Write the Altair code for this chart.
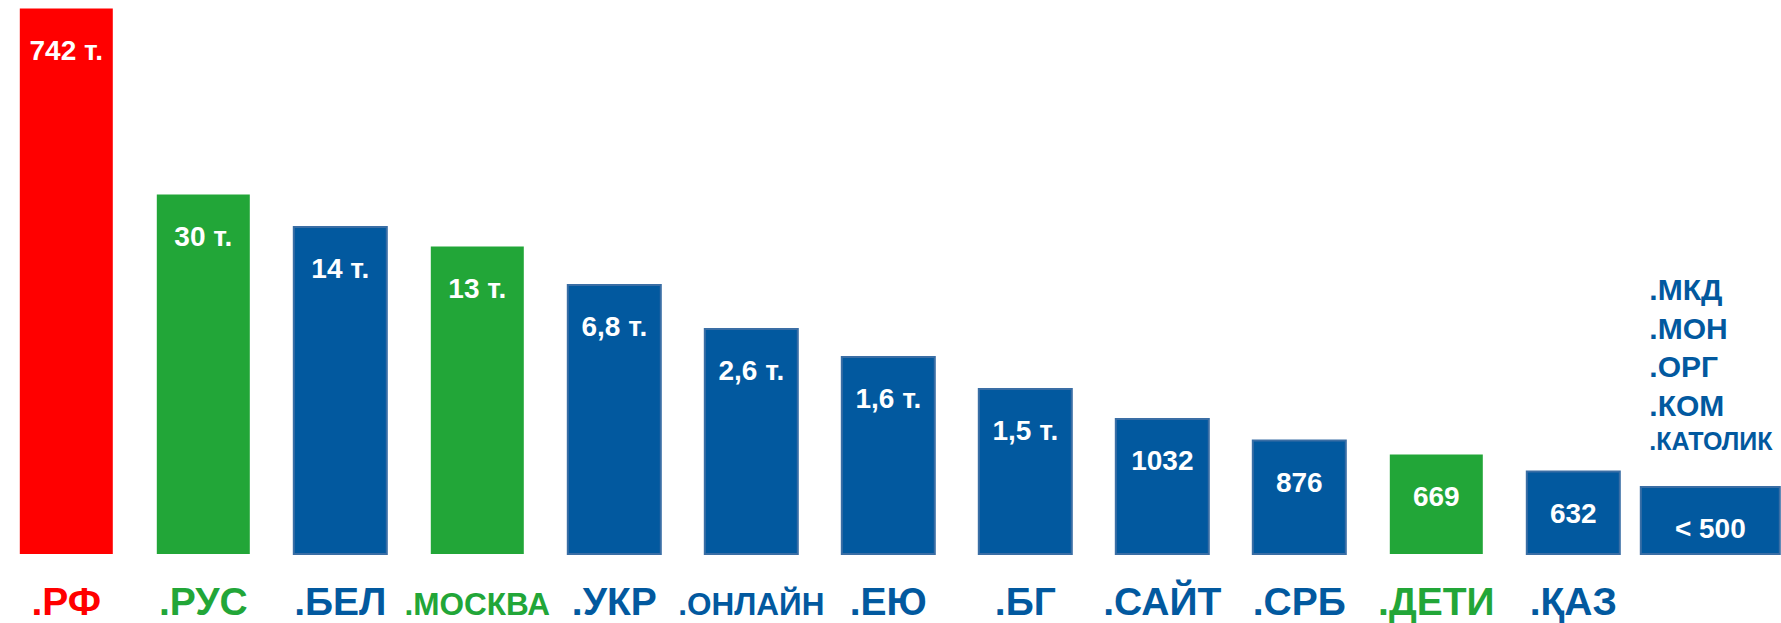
import altair as alt
import pandas as pd

# ---- data ----
categories = [".РФ", ".РУС", ".БЕЛ", ".МОСКВА", ".УКР", ".ОНЛАЙН", ".ЕЮ",
              ".БГ", ".САЙТ", ".СРБ", ".ДЕТИ", ".ҚАЗ", "< 500"]
tick_labels = [".РФ", ".РУС", ".БЕЛ", ".МОСКВА", ".УКР", ".ОНЛАЙН", ".ЕЮ",
               ".БГ", ".САЙТ", ".СРБ", ".ДЕТИ", ".ҚАЗ", ""]
value_labels = ["742 т.", "30 т.", "14 т.", "13 т.", "6,8 т.", "2,6 т.", "1,6 т.",
                "1,5 т.", "1032", "876", "669", "632", "< 500"]
# visual bar heights (the picture is not to scale)
bar_heights = [545.5, 359.5, 327, 307.5, 269, 225, 197, 165, 135, 113.5, 99.5, 82.5, 67]
groups = ["red", "green", "blue", "green", "blue", "blue", "blue",
          "blue", "blue", "blue", "green", "blue", "blue"]
small_tlds = [".МКД", ".МОН", ".ОРГ", ".КОМ"]
small_tld_last = ".КАТОЛИК"

df = pd.DataFrame({
    "cat": categories,
    "tick": tick_labels,
    "val": value_labels,
    "h": bar_heights,
    "grp": groups,
})

FONT = "Liberation Sans"
grp_domain = ["red", "green", "blue"]
fill_range = ["#FF0000", "#22A638", "#02599F"]

x_enc = alt.X("cat:N", sort=categories,
              scale=alt.Scale(domain=categories, paddingInner=0.3212,
                              paddingOuter=0.1606, align=0.45),
              axis=None)
y_scale = alt.Scale(domain=[0, 554])
y_enc = alt.Y("h:Q", scale=y_scale, axis=None)
fill_enc = alt.Color("grp:N", scale=alt.Scale(domain=grp_domain, range=fill_range), legend=None)
stroke_enc = alt.condition(alt.datum.grp == "blue", alt.value("#3A6EA5"), alt.value("transparent"))

base = alt.Chart(df)

bars = base.transform_filter(alt.datum.cat != "< 500").mark_bar(strokeWidth=2).encode(
    x=x_enc, y=y_enc, color=fill_enc, stroke=stroke_enc)

last_bar = base.transform_filter(alt.datum.cat == "< 500").mark_bar(width=139, strokeWidth=2).encode(
    x=x_enc, y=y_enc, color=fill_enc, stroke=stroke_enc)

values = base.mark_text(font=FONT, fontSize=28, fontWeight="bold", color="white",
                        baseline="alphabetic", dy=51).encode(
    x=x_enc, y=y_enc, text="val:N")

tick_color = alt.Color("grp:N", scale=alt.Scale(domain=grp_domain, range=fill_range), legend=None)

ticks_big = base.transform_filter("datum.tick != '' && length(datum.tick) <= 5").transform_calculate(
    zero="0").mark_text(
    font=FONT, fontSize=39, fontWeight="bold", baseline="alphabetic", dy=61).encode(
    x=x_enc, y=alt.Y("zero:Q", scale=y_scale, axis=None),
    text="tick:N", color=tick_color)

ticks_small = base.transform_filter("length(datum.tick) > 5").transform_calculate(
    zero="0").mark_text(
    font=FONT, fontSize=31.5, fontWeight="bold", baseline="alphabetic", dy=61).encode(
    x=x_enc, y=alt.Y("zero:Q", scale=y_scale, axis=None),
    text="tick:N", color=tick_color)

stack = base.transform_filter(alt.datum.cat == "< 500").mark_text(
    font=FONT, fontSize=30, fontWeight="bold", color="#02599F", align="left",
    baseline="alphabetic", lineHeight=38.5, lineBreak="\n", dx=-61, dy=-187).encode(
    x=x_enc, y=y_enc, text=alt.value("\n".join(small_tlds)))

stack_last = base.transform_filter(alt.datum.cat == "< 500").mark_text(
    font=FONT, fontSize=25, fontWeight="bold", color="#02599F", align="left",
    baseline="alphabetic", dx=-61, dy=-37).encode(
    x=x_enc, y=y_enc, text=alt.value(small_tld_last))

chart = alt.layer(bars, last_bar, values, ticks_big, ticks_small, stack, stack_last).properties(
    width=1781, height=554,
    autosize=alt.AutoSizeParams(type="none"),
    padding={"left": 0, "top": 0, "right": 0, "bottom": 69},
    background="white",
).configure_view(stroke=None)

chart.save("out.html", embed_options={"renderer": "svg", "actions": False})
